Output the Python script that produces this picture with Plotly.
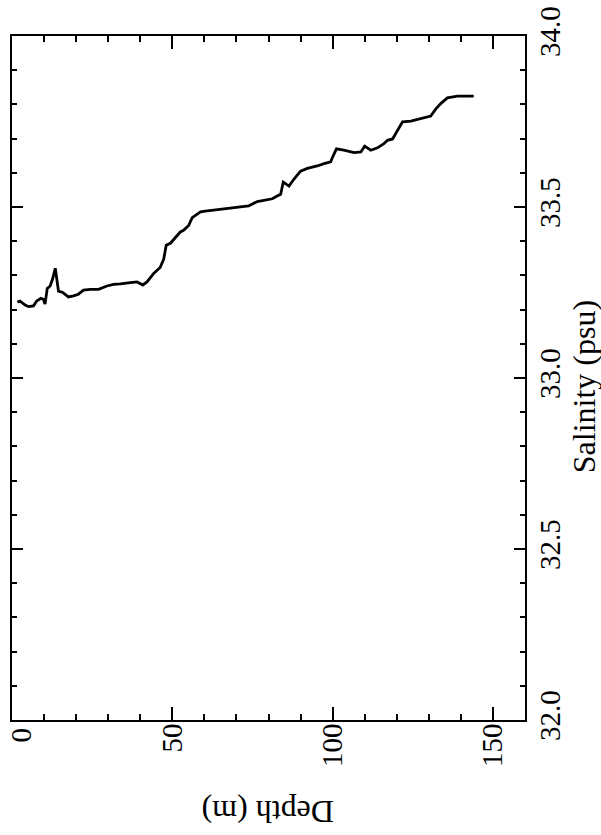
"""Salinity profile (scanned figure, drawn rotated)."""

import plotly.graph_objects as go

# depth (m) along the bottom axis, salinity (psu) on the right axis
depth = [
    1.7, 2.5, 4.1, 5.1, 6.7, 7.7, 9.0, 9.8, 10.3, 11.0, 11.9, 12.7, 13.5, 14.0,
    14.5, 15.8, 17.6, 19.2, 20.7, 22.3, 24.4, 27.0, 29.6, 31.7, 33.8, 36.9,
    39.0, 40.8, 42.1, 44.2, 46.2, 47.3, 48.1, 49.4, 50.9, 52.5, 53.5, 55.1,
    56.2, 57.2, 58.8, 60.3, 62.9, 66.0, 68.1, 71.2, 73.8, 76.5, 78.5, 81.2,
    82.7, 83.8, 84.6, 85.3, 86.4, 87.9, 90.0, 92.1, 95.2, 97.3, 99.4, 99.9,
    101.2, 103.5, 105.6, 106.7, 108.8, 110.0, 111.9, 114.0, 116.0, 117.1,
    118.7, 120.2, 121.8, 124.4, 127.5, 130.6, 132.2, 133.8, 135.8, 138.9, 144.0,
]
salinity = [
    33.222, 33.225, 33.213, 33.209, 33.211, 33.225, 33.233, 33.230, 33.216,
    33.262, 33.269, 33.291, 33.321, 33.284, 33.254, 33.250, 33.237, 33.240,
    33.245, 33.257, 33.259, 33.259, 33.269, 33.274, 33.275, 33.279, 33.281,
    33.272, 33.281, 33.306, 33.323, 33.347, 33.388, 33.394, 33.410, 33.427,
    33.432, 33.446, 33.469, 33.476, 33.486, 33.488, 33.491, 33.495, 33.496,
    33.499, 33.503, 33.516, 33.519, 33.524, 33.532, 33.537, 33.573, 33.568,
    33.561, 33.581, 33.605, 33.613, 33.620, 33.627, 33.632, 33.644, 33.670,
    33.666, 33.661, 33.659, 33.661, 33.678, 33.666, 33.673, 33.685, 33.695,
    33.699, 33.722, 33.749, 33.751, 33.758, 33.766, 33.787, 33.803, 33.819,
    33.824, 33.824,
]

depth_ticks = [0, 50, 100, 150]
salinity_ticks = [32.0, 32.5, 33.0, 33.5, 34.0]

FONT = "Liberation Serif, Times New Roman, serif"

fig = go.Figure()
fig.add_trace(
    go.Scatter(x=depth, y=salinity, mode="lines",
               line=dict(color="black", width=2.8), showlegend=False)
)

# the "0" label sits just inside the corner in the original, so it is
# written separately below and left blank on the axis itself
fig.update_xaxes(
    range=[0, 160],
    tickvals=depth_ticks,
    ticktext=["" if t == 0 else str(t) for t in depth_ticks],
    tickangle=-90,
    ticks="inside", ticklen=13, tickwidth=2, tickcolor="black",
    minor=dict(dtick=10, ticks="inside", ticklen=6, tickwidth=2, tickcolor="black"),
    showline=True, linewidth=2, linecolor="black", mirror="ticks",
    showgrid=False, zeroline=False,
    tickfont=dict(family=FONT, size=29, color="black"),
    ticklabelstandoff=-10, ticklabeloverflow="allow",
    automargin=False,
)
fig.update_yaxes(
    range=[32, 34],
    side="right",
    tickvals=salinity_ticks,
    ticktext=[f"{t:.1f}" for t in salinity_ticks],
    tickangle=-90,
    ticks="inside", ticklen=11, tickwidth=2, tickcolor="black",
    minor=dict(dtick=0.1, ticks="inside", ticklen=5, tickwidth=2, tickcolor="black"),
    showline=True, linewidth=2, linecolor="black", mirror="ticks",
    showgrid=False, zeroline=False,
    tickfont=dict(family=FONT, size=29, color="black"),
    ticklabelstandoff=-2, ticklabeloverflow="allow",
    automargin=False,
)

fig.add_annotation(
    text=str(depth_ticks[0]), x=depth_ticks[0], xref="x", y=0, yref="paper",
    xanchor="center", yanchor="top", xshift=8, yshift=-6,
    showarrow=False, textangle=-90,
    font=dict(family=FONT, size=29, color="black"),
)
fig.add_annotation(
    text="Depth (m)", xref="paper", yref="paper", x=0.499, y=-0.1345,
    xanchor="center", yanchor="middle",
    showarrow=False, textangle=180,
    font=dict(family=FONT, size=32, color="black"),
)
fig.add_annotation(
    text="Salinity (psu)", xref="paper", yref="paper", x=1.115, y=0.488,
    xanchor="center", yanchor="middle",
    showarrow=False, textangle=-90,
    font=dict(family=FONT, size=32, color="black"),
)

fig.update_layout(
    width=601, height=835,
    margin=dict(l=12, r=76, t=36, b=115),
    paper_bgcolor="white", plot_bgcolor="white",
)

# drop the browser's default body margin so the figure fills the window exactly
fig.write_html(
    "out.html",
    config={"displayModeBar": False},
    post_script="document.body.style.margin = '0';",
)
